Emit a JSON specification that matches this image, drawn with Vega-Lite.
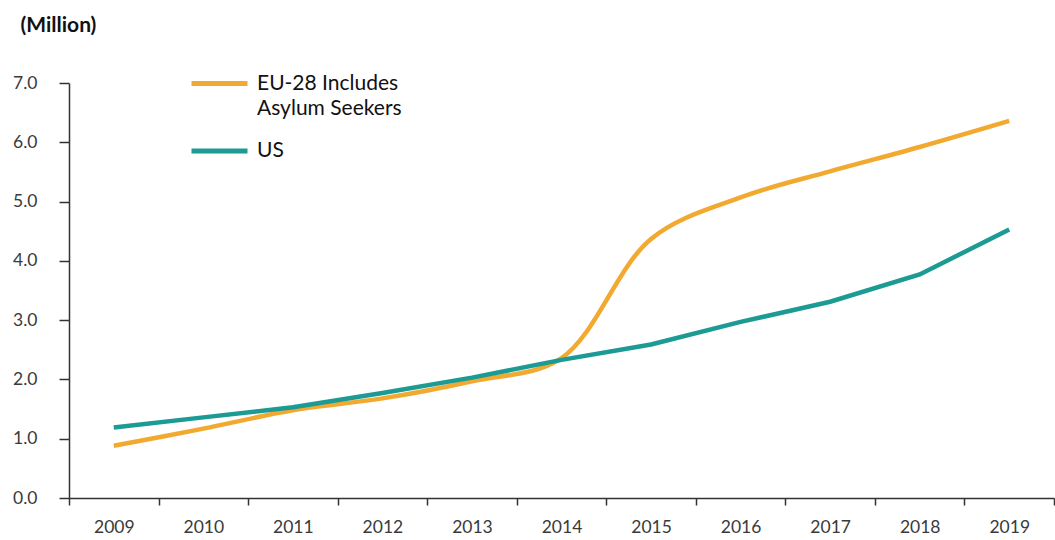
{
  "$schema": "https://vega.github.io/schema/vega-lite/v6.json",
  "width": 985,
  "height": 415,
  "autosize": {"type": "none"},
  "padding": {"left": 69, "top": 83, "right": 1, "bottom": 42},
  "background": "white",
  "config": {
    "view": {"stroke": null},
    "font": "Lato",
    "style": {"guide-label": {"lineHeight": 25.5}}
  },
  "data": {
    "values": [
      {"year": "2009", "series": "EU-28 Includes Asylum Seekers", "value": 0.88},
      {"year": "2010", "series": "EU-28 Includes Asylum Seekers", "value": 1.17},
      {"year": "2011", "series": "EU-28 Includes Asylum Seekers", "value": 1.48},
      {"year": "2012", "series": "EU-28 Includes Asylum Seekers", "value": 1.68},
      {"year": "2013", "series": "EU-28 Includes Asylum Seekers", "value": 1.97},
      {"year": "2014", "series": "EU-28 Includes Asylum Seekers", "value": 2.36},
      {"year": "2015", "series": "EU-28 Includes Asylum Seekers", "value": 4.37},
      {"year": "2016", "series": "EU-28 Includes Asylum Seekers", "value": 5.07},
      {"year": "2017", "series": "EU-28 Includes Asylum Seekers", "value": 5.51},
      {"year": "2018", "series": "EU-28 Includes Asylum Seekers", "value": 5.92},
      {"year": "2019", "series": "EU-28 Includes Asylum Seekers", "value": 6.36},
      {"year": "2009", "series": "US", "value": 1.19},
      {"year": "2010", "series": "US", "value": 1.36},
      {"year": "2011", "series": "US", "value": 1.53},
      {"year": "2012", "series": "US", "value": 1.77},
      {"year": "2013", "series": "US", "value": 2.03},
      {"year": "2014", "series": "US", "value": 2.33},
      {"year": "2015", "series": "US", "value": 2.59},
      {"year": "2016", "series": "US", "value": 2.97},
      {"year": "2017", "series": "US", "value": 3.31},
      {"year": "2018", "series": "US", "value": 3.77},
      {"year": "2019", "series": "US", "value": 4.53}
    ]
  },
  "encoding": {
    "x": {
      "field": "year",
      "type": "ordinal",
      "scale": {"type": "band", "paddingInner": 0, "paddingOuter": 0},
      "axis": {
        "title": null,
        "labelAngle": 0,
        "tickBand": "extent",
        "domainColor": "#333333",
        "domainWidth": 1.5,
        "tickColor": "#333333",
        "tickWidth": 1.5,
        "tickSize": 7,
        "labelFontSize": 17.5,
        "labelColor": "#3a3a3a",
        "labelPadding": 13
      }
    },
    "y": {
      "field": "value",
      "type": "quantitative",
      "scale": {"domain": [0, 7], "nice": false},
      "axis": {
        "values": [0, 1, 2, 3, 4, 5, 6, 7],
        "format": ".1f",
        "grid": false,
        "domainColor": "#333333",
        "domainWidth": 1.5,
        "tickColor": "#333333",
        "tickWidth": 1.5,
        "tickSize": 10,
        "labelFontSize": 17.5,
        "labelColor": "#3a3a3a",
        "labelPadding": 22,
        "title": "(Million)",
        "titleAngle": 0,
        "titleX": -49,
        "titleY": -52,
        "titleAlign": "left",
        "titleBaseline": "alphabetic",
        "titleFontSize": 21,
        "titleFontWeight": "bold",
        "titleColor": "#111111"
      }
    },
    "color": {
      "field": "series",
      "type": "nominal",
      "scale": {"domain": ["EU-28 Includes Asylum Seekers", "US"], "range": ["#F2A92F", "#1C9A94"]},
      "legend": {
        "title": null,
        "orient": "none",
        "legendX": 120,
        "legendY": -30,
        "symbolType": "stroke",
        "symbolSize": 3136,
        "symbolStrokeWidth": 5,
        "labelFontSize": 21,
        "labelColor": "#111111",
        "labelLimit": 400,
        "labelOffset": 7,
        "rowPadding": 1.5,
        "labelExpr": "datum.value == 'US' ? 'US' : ['EU-28 Includes', 'Asylum Seekers']"
      }
    }
  },
  "layer": [
    {
      "transform": [{"filter": "datum.series != 'US'"}],
      "mark": {"type": "line", "interpolate": "catmull-rom", "strokeWidth": 4.5}
    },
    {
      "transform": [{"filter": "datum.series == 'US'"}],
      "mark": {"type": "line", "interpolate": "linear", "strokeWidth": 4.5}
    }
  ]
}
